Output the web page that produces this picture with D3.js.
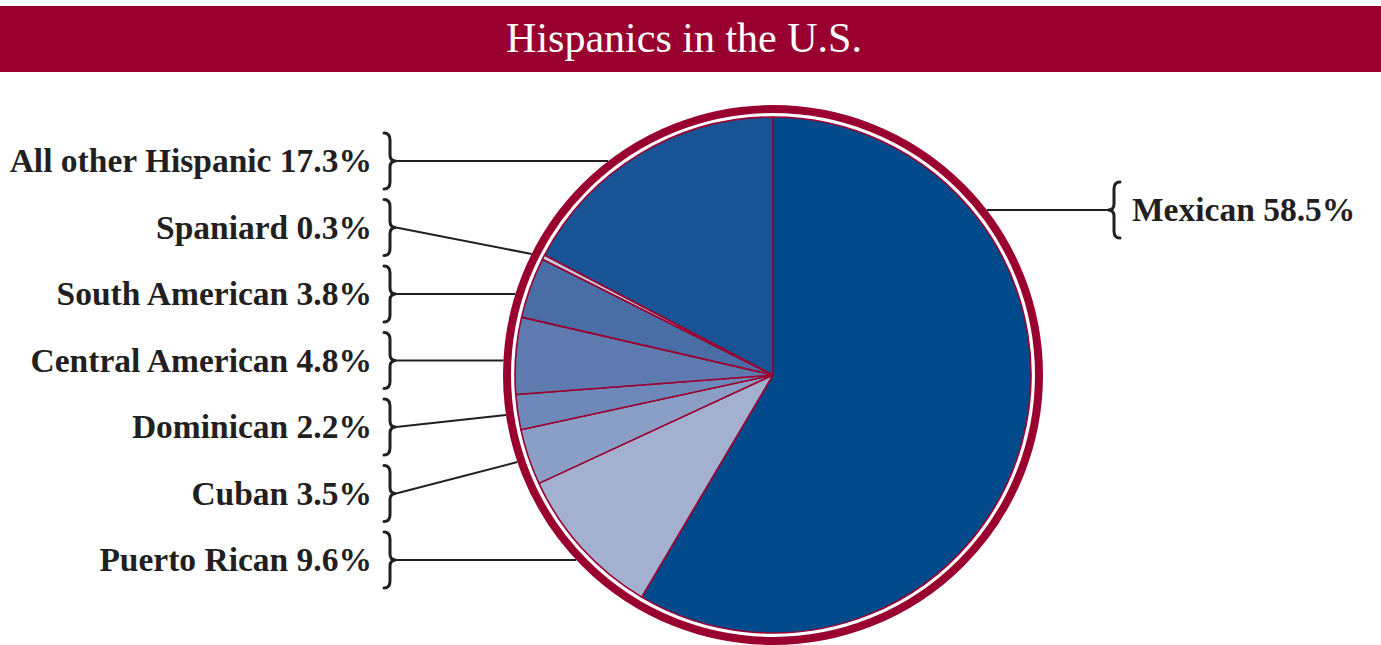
<!DOCTYPE html>
<html>
<head>
<meta charset="utf-8">
<script src="https://cdn.jsdelivr.net/npm/d3@7"></script>
<style>
  body { margin: 0; background: #fff; }
  svg { display: block; }
</style>
</head>
<body>
<svg id="chart" width="1381" height="645"></svg>
<script>
// data
var categories = ["Mexican", "Puerto Rican", "Cuban", "Dominican",
                  "Central American", "South American", "Spaniard", "All other Hispanic"];
var shares = [58.5, 9.6, 3.5, 2.2, 4.8, 3.8, 0.3, 17.3];
var sliceColors = ["#004a8c", "#a3b0d0", "#8a9ec6", "#6f88ba",
                   "#5f7aaf", "#4a6da5", "#c3cadf", "#185495"];
var title = "Hispanics in the U.S.";

// where each label sits and where its leader meets the ring (y in px)
var labelY  = [210, 560, 493.5, 427, 360.5, 294, 227.5, 161];
var leaderY = [210, 560, 462, 415, 360.5, 294, 254, 161];

var crimson = "#990030",
    ink = "#231f20";

var svg = d3.select("#chart"),
    width = +svg.attr("width");

var cx = 773, cy = 375,
    r = 258,          // slices
    ringR = 266,      // middle of the crimson ring
    ringW = 8;

// title bar
svg.append("rect")
  .attr("x", 0).attr("y", 6)
  .attr("width", width).attr("height", 66)
  .attr("fill", crimson);

svg.append("text")
  .attr("x", 684).attr("y", 52)
  .attr("text-anchor", "middle")
  .attr("fill", "#fff")
  .attr("font-family", "'Liberation Serif', 'DejaVu Serif', serif")
  .attr("font-size", 42)
  .text(title);

var data = categories.map(function(c, i) {
  return { name: c, value: shares[i], color: sliceColors[i], labelY: labelY[i], leaderY: leaderY[i] };
});

var pie = d3.pie().sort(null).value(function(d) { return d.value; });
var arc = d3.arc().innerRadius(0).outerRadius(r);

// leader lines go under the ring
var leaders = svg.append("g")
  .attr("fill", "none")
  .attr("stroke", ink)
  .attr("stroke-width", 2);

function braceRight(x0, y, h, w) {
  // "}" with tip pointing right at (x0 + 2w, y)
  return "M" + x0 + "," + (y - h) +
    "Q" + (x0 + w) + "," + (y - h) + " " + (x0 + w) + "," + (y - h + 7) +
    "L" + (x0 + w) + "," + (y - 6) +
    "Q" + (x0 + w) + "," + y + " " + (x0 + 2 * w) + "," + y +
    "Q" + (x0 + w) + "," + y + " " + (x0 + w) + "," + (y + 6) +
    "L" + (x0 + w) + "," + (y + h - 7) +
    "Q" + (x0 + w) + "," + (y + h) + " " + x0 + "," + (y + h);
}

var ringOuter = ringR + ringW / 2;

data.forEach(function(d, i) {
  var right = (i === 0);
  var dy = d.leaderY - cy;
  var ex = cx + (right ? 1 : -1) * Math.sqrt(ringOuter * ringOuter - dy * dy);
  var tipX = right ? 1108 : 396;

  leaders.append("line")
    .attr("x1", tipX).attr("y1", d.labelY)
    .attr("x2", ex).attr("y2", d.leaderY);

  var bw = right ? -6 : 6,
      bx = right ? tipX + 12 : tipX - 12;
  svg.append("path")
    .attr("d", braceRight(bx, d.labelY, 28, bw))
    .attr("fill", "none")
    .attr("stroke", ink)
    .attr("stroke-width", 3)
    .attr("stroke-linecap", "round");

  svg.append("text")
    .attr("x", right ? 1132 : 372)
    .attr("y", d.labelY + 11)
    .attr("text-anchor", right ? "start" : "end")
    .attr("fill", ink)
    .attr("font-family", "'Liberation Serif', 'DejaVu Serif', serif")
    .attr("font-weight", "bold")
    .attr("font-size", 33.5)
    .text(d.name + " " + d3.format(".1f")(d.value) + "%");
});

var g = svg.append("g").attr("transform", "translate(" + cx + "," + cy + ")");

// white backing behind ring gap
g.append("circle")
  .attr("r", ringR)
  .attr("fill", "#fff");

g.selectAll("path.slice")
  .data(pie(data))
  .enter().append("path")
  .attr("class", "slice")
  .attr("d", arc)
  .attr("fill", function(d) { return d.data.color; })
  .attr("stroke", crimson)
  .attr("stroke-width", 1.6)
  .attr("stroke-linejoin", "round");

g.append("circle")
  .attr("r", ringR)
  .attr("fill", "none")
  .attr("stroke", crimson)
  .attr("stroke-width", ringW);
</script>
</body>
</html>
